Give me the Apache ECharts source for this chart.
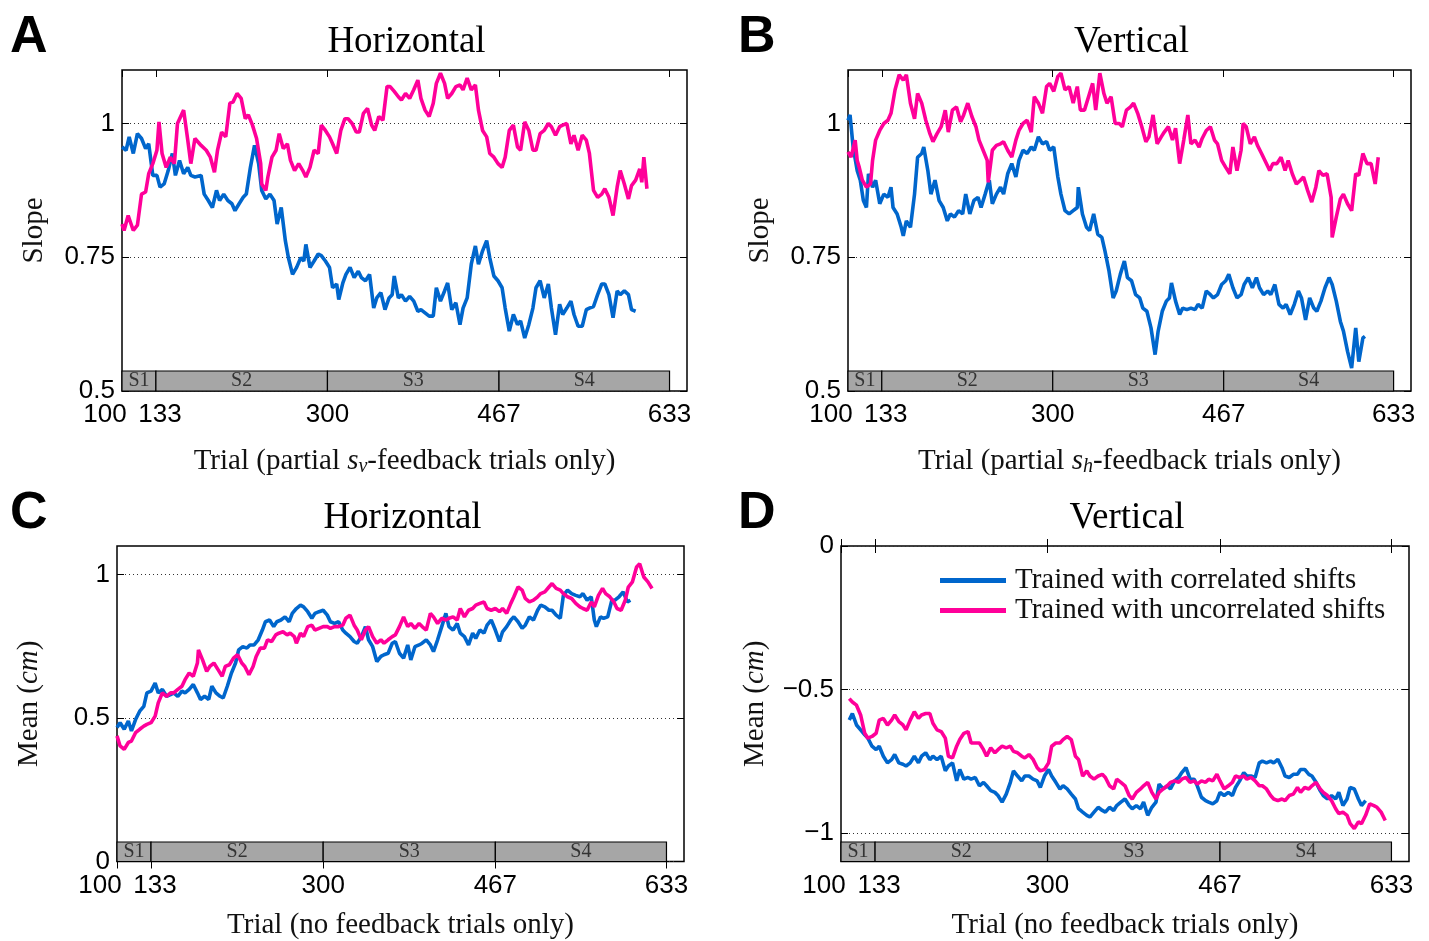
<!DOCTYPE html>
<html>
<head>
<meta charset="utf-8">
<title>Slope and mean over trials</title>
<script src="https://cdn.jsdelivr.net/npm/echarts@6/dist/echarts.min.js"></script>
<style>
  html, body { margin: 0; padding: 0; background: #fff; }
  #chart { width: 1429px; height: 941px; }
</style>
</head>
<body>
<div id="chart"></div>
<script>
// ticks and session bar, shared by all panels
const trialTicks = [100, 133, 300, 467, 633]
const sessionNames = ['S1', 'S2', 'S3', 'S4']
const sessionStart = [100, 133, 300, 467]
const sessionEnd = [133, 300, 467, 633]
const slopeTicks = [0.5, 0.75, 1]
const hMeanTicks = [0, 0.5, 1]
const vMeanTicks = [-1, -0.5, 0]

const corrName = 'Trained with correlated shifts'
const uncorrName = 'Trained with uncorrelated shifts'

// A: slope, horizontal  [trial, slope]
const hSlopeCorr = [[100,0.956],[104,0.95],[107,0.975],[111,0.944],[115,0.981],[119,0.972],[123,0.953],[126,0.962],[130,0.903],[134,0.903],[137,0.881],[141,0.887],[145,0.912],[149,0.944],[152,0.903],[156,0.931],[160,0.906],[164,0.918],[167,0.903],[171,0.9],[177,0.903],[180,0.868],[184,0.856],[188,0.843],[192,0.875],[195,0.856],[199,0.868],[203,0.856],[207,0.85],[210,0.837],[214,0.85],[218,0.862],[221,0.868],[225,0.918],[229,0.959],[233,0.925],[236,0.875],[240,0.859],[244,0.868],[248,0.856],[251,0.812],[255,0.843],[259,0.781],[262,0.749],[266,0.718],[270,0.731],[274,0.749],[277,0.743],[279,0.774],[283,0.731],[287,0.743],[291,0.756],[294,0.753],[298,0.743],[302,0.731],[305,0.693],[309,0.7],[311,0.671],[315,0.702],[318,0.718],[322,0.731],[326,0.712],[330,0.724],[333,0.712],[337,0.706],[341,0.718],[345,0.655],[348,0.674],[352,0.684],[356,0.652],[360,0.674],[363,0.68],[365,0.715],[369,0.674],[372,0.68],[376,0.668],[380,0.677],[384,0.668],[388,0.649],[391,0.652],[395,0.646],[399,0.64],[403,0.64],[406,0.693],[410,0.668],[414,0.687],[417,0.702],[421,0.652],[425,0.665],[429,0.624],[432,0.655],[436,0.674],[440,0.737],[444,0.771],[447,0.737],[451,0.762],[455,0.781],[458,0.749],[462,0.715],[466,0.706],[470,0.693],[473,0.655],[477,0.612],[481,0.643],[485,0.624],[488,0.631],[492,0.599],[496,0.624],[500,0.655],[503,0.693],[507,0.706],[511,0.674],[515,0.7],[518,0.655],[522,0.605],[526,0.662],[529,0.643],[533,0.655],[537,0.668],[540,0.643],[544,0.621],[548,0.621],[552,0.652],[555,0.655],[559,0.658],[563,0.68],[567,0.7],[570,0.7],[574,0.68],[578,0.637],[582,0.687],[585,0.68],[589,0.687],[593,0.68],[596,0.652],[600,0.649]]
const hSlopeUncorr = [[100,0.812],[102,0.8],[106,0.828],[111,0.8],[115,0.81],[119,0.868],[123,0.872],[126,0.906],[130,0.925],[134,0.95],[136,1.003],[139,0.944],[143,0.918],[147,0.937],[151,0.925],[154,1.0],[160,1.025],[164,0.969],[167,0.925],[171,0.972],[177,0.959],[182,0.95],[186,0.937],[190,0.909],[193,0.95],[197,0.984],[201,0.975],[205,1.038],[208,1.04],[212,1.056],[216,1.047],[220,1.009],[223,1.016],[227,0.997],[231,0.972],[235,0.925],[236,0.887],[240,0.875],[242,0.9],[246,0.937],[250,0.95],[253,0.981],[257,0.953],[261,0.962],[264,0.931],[268,0.912],[272,0.925],[276,0.912],[279,0.9],[283,0.918],[287,0.95],[291,0.944],[294,0.997],[298,0.987],[302,0.975],[305,0.962],[309,0.944],[313,0.987],[317,1.009],[320,1.009],[324,1.0],[328,0.984],[331,0.984],[335,1.019],[339,1.028],[343,0.997],[346,0.987],[350,1.013],[354,1.006],[358,1.069],[361,1.069],[365,1.06],[369,1.05],[372,1.044],[376,1.056],[380,1.047],[384,1.063],[388,1.081],[391,1.047],[395,1.025],[399,1.013],[403,1.038],[406,1.075],[410,1.094],[414,1.075],[417,1.047],[421,1.056],[425,1.069],[429,1.072],[432,1.063],[436,1.085],[440,1.063],[444,1.072],[447,1.025],[451,0.987],[455,0.975],[458,0.944],[462,0.937],[466,0.925],[470,0.918],[473,0.937],[477,0.987],[481,0.997],[485,0.956],[488,0.95],[492,1.003],[496,0.987],[500,0.95],[503,0.95],[507,0.981],[511,0.987],[515,1.0],[518,0.994],[522,0.978],[526,0.994],[529,0.997],[533,1.0],[537,0.962],[540,0.978],[544,0.95],[548,0.978],[552,0.969],[555,0.944],[559,0.875],[563,0.862],[567,0.868],[570,0.878],[574,0.862],[578,0.828],[582,0.881],[585,0.912],[589,0.887],[593,0.859],[596,0.884],[600,0.894],[604,0.915],[606,0.89],[608,0.937],[611,0.878]]

// B: slope, vertical
const vSlopeCorr = [[100,1.006],[102,1.016],[105,0.956],[109,0.912],[112,0.894],[115,0.856],[118,0.843],[120,0.906],[124,0.881],[127,0.894],[131,0.85],[135,0.868],[139,0.862],[142,0.881],[144,0.843],[148,0.831],[152,0.806],[154,0.79],[157,0.818],[161,0.806],[165,0.868],[168,0.937],[172,0.944],[174,0.956],[178,0.912],[181,0.868],[185,0.894],[189,0.856],[193,0.843],[197,0.818],[200,0.831],[204,0.825],[208,0.837],[212,0.831],[215,0.868],[219,0.831],[223,0.856],[227,0.862],[230,0.843],[234,0.868],[238,0.894],[241,0.85],[245,0.868],[249,0.881],[252,0.868],[256,0.906],[260,0.925],[264,0.9],[267,0.931],[271,0.95],[275,0.944],[279,0.956],[282,0.95],[286,0.975],[290,0.962],[294,0.966],[297,0.95],[301,0.956],[305,0.9],[308,0.868],[312,0.837],[316,0.831],[320,0.837],[324,0.843],[325,0.881],[329,0.831],[333,0.806],[336,0.8],[340,0.831],[344,0.793],[348,0.787],[351,0.762],[355,0.724],[359,0.674],[362,0.687],[366,0.718],[370,0.743],[373,0.712],[377,0.706],[381,0.68],[385,0.674],[388,0.655],[392,0.649],[396,0.618],[400,0.568],[403,0.612],[407,0.649],[411,0.668],[414,0.674],[416,0.702],[420,0.668],[424,0.643],[427,0.655],[431,0.652],[435,0.655],[439,0.652],[442,0.662],[446,0.655],[450,0.687],[454,0.68],[457,0.674],[461,0.68],[465,0.699],[469,0.706],[472,0.718],[476,0.693],[480,0.674],[484,0.68],[487,0.699],[491,0.712],[495,0.693],[499,0.712],[502,0.693],[506,0.68],[510,0.687],[513,0.68],[517,0.699],[521,0.662],[525,0.655],[528,0.662],[532,0.643],[536,0.662],[540,0.687],[543,0.674],[547,0.633],[551,0.674],[555,0.655],[558,0.649],[562,0.668],[566,0.693],[570,0.712],[573,0.699],[577,0.668],[581,0.63],[584,0.612],[588,0.574],[592,0.543],[596,0.618],[599,0.555],[603,0.599],[605,0.602]]
const vSlopeUncorr = [[100,0.947],[103,0.937],[107,0.969],[109,0.931],[111,0.918],[114,0.894],[118,0.881],[122,0.887],[124,0.931],[127,0.969],[131,0.987],[135,1.0],[139,1.006],[142,1.019],[146,1.063],[150,1.091],[154,1.081],[157,1.091],[161,1.038],[165,1.009],[168,1.056],[172,1.038],[176,1.006],[180,0.981],[183,0.966],[187,0.981],[191,0.994],[195,1.025],[198,0.984],[202,1.025],[206,1.031],[210,1.003],[213,1.016],[217,1.038],[221,1.013],[225,0.994],[228,0.969],[232,0.95],[236,0.931],[237,0.89],[241,0.95],[245,0.959],[249,0.962],[252,0.966],[256,0.95],[260,0.937],[264,0.969],[267,0.987],[271,1.0],[275,1.006],[279,0.984],[282,1.05],[286,1.038],[290,1.019],[294,1.069],[297,1.075],[301,1.06],[305,1.088],[308,1.094],[312,1.063],[316,1.069],[320,1.038],[324,1.069],[327,1.025],[331,1.025],[335,1.05],[339,1.075],[342,1.025],[346,1.094],[350,1.056],[353,1.038],[357,1.05],[361,1.0],[365,1.0],[368,0.994],[372,1.025],[376,1.031],[379,1.038],[383,1.019],[387,0.994],[391,0.966],[394,0.975],[398,1.016],[402,0.962],[406,0.975],[409,0.984],[413,0.994],[417,0.969],[420,0.991],[424,0.925],[428,0.969],[432,1.016],[435,0.962],[439,0.969],[443,0.956],[446,0.972],[450,0.987],[454,0.994],[458,0.969],[461,0.962],[465,0.931],[469,0.918],[473,0.906],[476,0.956],[480,0.912],[484,0.95],[486,1.0],[489,0.994],[493,0.962],[497,0.975],[500,0.959],[504,0.944],[508,0.928],[512,0.912],[515,0.925],[519,0.925],[523,0.937],[527,0.912],[530,0.931],[534,0.906],[538,0.887],[542,0.894],[545,0.9],[549,0.875],[553,0.853],[557,0.881],[560,0.912],[564,0.903],[568,0.906],[572,0.862],[573,0.787],[577,0.825],[581,0.859],[584,0.868],[588,0.85],[592,0.837],[596,0.906],[599,0.903],[603,0.944],[607,0.925],[611,0.925],[615,0.887],[618,0.937]]

// C: mean, horizontal  [trial, cm]
const hMeanCorr = [[100,0.467],[103,0.484],[107,0.461],[111,0.49],[114,0.455],[118,0.495],[122,0.524],[126,0.541],[129,0.588],[133,0.594],[137,0.622],[140,0.588],[144,0.6],[148,0.576],[152,0.582],[155,0.588],[159,0.576],[163,0.594],[166,0.588],[170,0.6],[174,0.617],[178,0.588],[181,0.565],[185,0.576],[189,0.565],[192,0.611],[196,0.588],[200,0.576],[203,0.57],[207,0.611],[211,0.657],[215,0.692],[218,0.738],[222,0.749],[226,0.744],[229,0.755],[233,0.755],[237,0.773],[241,0.807],[244,0.836],[248,0.842],[252,0.819],[255,0.836],[259,0.842],[263,0.853],[267,0.836],[270,0.865],[274,0.882],[278,0.894],[281,0.888],[285,0.871],[289,0.848],[292,0.865],[296,0.871],[300,0.876],[304,0.859],[307,0.836],[311,0.83],[315,0.836],[319,0.807],[322,0.796],[326,0.784],[330,0.767],[333,0.761],[337,0.784],[341,0.819],[344,0.773],[348,0.749],[352,0.697],[356,0.715],[359,0.721],[363,0.726],[367,0.761],[370,0.767],[374,0.726],[378,0.709],[382,0.755],[385,0.703],[389,0.749],[393,0.755],[396,0.761],[400,0.773],[404,0.755],[407,0.732],[411,0.773],[415,0.819],[419,0.865],[422,0.819],[426,0.807],[430,0.83],[433,0.796],[437,0.784],[441,0.755],[445,0.796],[448,0.778],[452,0.807],[456,0.796],[459,0.824],[463,0.842],[467,0.807],[471,0.767],[474,0.801],[478,0.819],[482,0.842],[485,0.853],[489,0.836],[493,0.813],[496,0.824],[500,0.853],[504,0.842],[508,0.876],[511,0.894],[515,0.888],[519,0.876],[522,0.876],[526,0.859],[530,0.848],[533,0.928],[537,0.946],[541,0.934],[545,0.928],[549,0.923],[552,0.934],[556,0.911],[560,0.923],[563,0.842],[565,0.819],[569,0.853],[572,0.848],[576,0.853],[580,0.911],[583,0.911],[587,0.923],[591,0.94],[595,0.905],[598,0.911]]
const hMeanUncorr = [[100,0.438],[103,0.403],[107,0.391],[111,0.415],[114,0.42],[118,0.449],[122,0.461],[126,0.472],[129,0.478],[133,0.484],[137,0.507],[140,0.553],[144,0.588],[148,0.576],[152,0.588],[155,0.588],[159,0.6],[163,0.611],[166,0.634],[170,0.657],[174,0.646],[178,0.692],[179,0.738],[183,0.703],[187,0.663],[190,0.68],[194,0.692],[198,0.669],[202,0.646],[205,0.68],[209,0.686],[213,0.709],[217,0.721],[221,0.692],[224,0.68],[228,0.651],[232,0.68],[235,0.715],[239,0.744],[243,0.744],[246,0.773],[250,0.767],[254,0.79],[257,0.796],[261,0.801],[265,0.79],[268,0.796],[272,0.784],[274,0.761],[278,0.796],[281,0.784],[285,0.819],[289,0.824],[292,0.807],[296,0.813],[300,0.819],[304,0.819],[307,0.813],[311,0.819],[315,0.819],[319,0.824],[322,0.848],[326,0.859],[330,0.824],[333,0.807],[337,0.773],[341,0.807],[344,0.819],[348,0.784],[352,0.761],[356,0.773],[359,0.761],[363,0.773],[367,0.784],[370,0.79],[374,0.819],[378,0.853],[382,0.819],[385,0.83],[389,0.813],[393,0.83],[396,0.819],[400,0.807],[404,0.865],[407,0.853],[411,0.83],[415,0.848],[419,0.842],[422,0.848],[426,0.853],[430,0.842],[433,0.882],[437,0.853],[441,0.876],[445,0.882],[448,0.894],[452,0.9],[456,0.905],[459,0.882],[463,0.876],[467,0.882],[471,0.871],[474,0.882],[478,0.865],[482,0.9],[485,0.923],[489,0.957],[493,0.946],[496,0.917],[500,0.905],[504,0.911],[508,0.923],[511,0.934],[515,0.94],[519,0.957],[522,0.969],[526,0.952],[530,0.946],[533,0.934],[537,0.923],[541,0.917],[545,0.9],[549,0.888],[552,0.882],[556,0.876],[560,0.905],[563,0.888],[567,0.928],[571,0.952],[574,0.934],[578,0.923],[582,0.905],[585,0.882],[589,0.876],[593,0.911],[596,0.957],[600,0.975],[604,1.027],[607,1.038],[611,0.992],[615,0.975],[619,0.952]]

// D: mean, vertical
const vMeanCorr = [[108,-0.607],[111,-0.584],[115,-0.624],[119,-0.641],[123,-0.658],[126,-0.67],[130,-0.698],[134,-0.71],[137,-0.698],[141,-0.733],[145,-0.756],[149,-0.745],[152,-0.727],[156,-0.756],[160,-0.761],[163,-0.767],[167,-0.756],[171,-0.733],[175,-0.756],[178,-0.733],[182,-0.721],[186,-0.745],[189,-0.733],[193,-0.745],[197,-0.733],[201,-0.784],[204,-0.767],[208,-0.756],[212,-0.819],[215,-0.779],[219,-0.813],[223,-0.807],[226,-0.813],[230,-0.807],[234,-0.836],[238,-0.824],[241,-0.836],[245,-0.853],[249,-0.859],[252,-0.87],[256,-0.893],[260,-0.865],[264,-0.824],[267,-0.784],[271,-0.802],[275,-0.819],[278,-0.802],[282,-0.802],[286,-0.813],[290,-0.819],[293,-0.842],[297,-0.802],[301,-0.779],[304,-0.802],[308,-0.824],[312,-0.847],[315,-0.836],[319,-0.847],[323,-0.865],[327,-0.882],[330,-0.916],[334,-0.928],[338,-0.939],[341,-0.945],[345,-0.928],[349,-0.911],[353,-0.922],[356,-0.928],[360,-0.911],[364,-0.922],[367,-0.905],[371,-0.893],[375,-0.882],[379,-0.905],[382,-0.916],[386,-0.905],[390,-0.916],[393,-0.893],[397,-0.939],[401,-0.911],[405,-0.893],[408,-0.83],[412,-0.847],[416,-0.836],[419,-0.847],[423,-0.819],[427,-0.807],[430,-0.79],[434,-0.773],[438,-0.813],[442,-0.813],[445,-0.836],[449,-0.876],[453,-0.888],[456,-0.893],[460,-0.899],[464,-0.888],[467,-0.859],[471,-0.87],[475,-0.859],[479,-0.87],[482,-0.842],[486,-0.819],[490,-0.79],[493,-0.802],[497,-0.802],[501,-0.807],[505,-0.756],[508,-0.75],[512,-0.756],[516,-0.75],[519,-0.756],[523,-0.744],[527,-0.773],[530,-0.802],[534,-0.807],[538,-0.796],[542,-0.796],[545,-0.779],[549,-0.779],[553,-0.796],[556,-0.802],[560,-0.824],[564,-0.853],[567,-0.87],[571,-0.882],[575,-0.87],[579,-0.882],[582,-0.859],[586,-0.905],[590,-0.882],[593,-0.842],[597,-0.847],[601,-0.882],[604,-0.905],[608,-0.888]]
const vMeanUncorr = [[108,-0.532],[111,-0.544],[115,-0.555],[119,-0.589],[123,-0.653],[126,-0.67],[130,-0.664],[134,-0.653],[137,-0.607],[141,-0.601],[145,-0.624],[149,-0.607],[152,-0.589],[156,-0.612],[160,-0.624],[163,-0.641],[167,-0.607],[171,-0.578],[175,-0.601],[178,-0.589],[182,-0.584],[186,-0.584],[189,-0.618],[193,-0.641],[197,-0.647],[201,-0.67],[204,-0.733],[208,-0.739],[212,-0.698],[215,-0.675],[219,-0.653],[223,-0.647],[226,-0.687],[230,-0.687],[234,-0.687],[238,-0.71],[241,-0.733],[245,-0.704],[249,-0.721],[252,-0.71],[256,-0.698],[260,-0.704],[264,-0.698],[267,-0.716],[271,-0.721],[275,-0.733],[278,-0.739],[282,-0.727],[286,-0.744],[290,-0.773],[293,-0.784],[297,-0.779],[301,-0.756],[304,-0.698],[308,-0.687],[312,-0.687],[315,-0.675],[319,-0.664],[323,-0.675],[327,-0.733],[330,-0.744],[334,-0.802],[338,-0.784],[341,-0.802],[345,-0.813],[349,-0.802],[353,-0.796],[356,-0.807],[360,-0.836],[364,-0.847],[367,-0.813],[371,-0.824],[375,-0.836],[379,-0.87],[382,-0.882],[386,-0.859],[390,-0.847],[393,-0.836],[397,-0.824],[401,-0.859],[405,-0.882],[408,-0.859],[412,-0.847],[416,-0.836],[419,-0.824],[423,-0.819],[427,-0.824],[430,-0.813],[434,-0.807],[438,-0.824],[442,-0.819],[445,-0.83],[449,-0.819],[453,-0.824],[456,-0.813],[460,-0.819],[464,-0.796],[467,-0.819],[471,-0.847],[475,-0.836],[479,-0.824],[482,-0.802],[486,-0.807],[490,-0.802],[493,-0.813],[497,-0.807],[501,-0.819],[505,-0.836],[508,-0.836],[512,-0.847],[516,-0.87],[519,-0.882],[523,-0.888],[527,-0.882],[530,-0.888],[534,-0.87],[538,-0.865],[542,-0.842],[545,-0.859],[549,-0.842],[553,-0.847],[556,-0.836],[560,-0.824],[564,-0.847],[567,-0.859],[571,-0.87],[575,-0.888],[579,-0.916],[582,-0.933],[586,-0.928],[590,-0.939],[593,-0.968],[597,-0.985],[601,-0.962],[604,-0.968],[608,-0.939],[612,-0.899],[616,-0.905],[619,-0.911],[623,-0.928],[627,-0.957]]

const blue = '#0066CC'
const pink = '#FF0099'
const serif = '"Liberation Serif", "DejaVu Serif", serif'
const sans = '"Liberation Sans Narrow", "Liberation Sans", Arial, sans-serif'

const panels = [
  { letter: 'A', title: 'Horizontal', grid: { left: 122, top: 70, width: 565, height: 321 },
    yMin: 0.5, yMax: 1.1, yTicks: slopeTicks, barTop: 0.5374,
    yName: '{t|Slope}', xName: '{t|Trial (partial }{it|s}{sub|v}{t|-feedback trials only)}',
    xNameGap: 54, yNameGap: 72, corr: hSlopeCorr, uncorr: hSlopeUncorr },
  { letter: 'B', title: 'Vertical', grid: { left: 848, top: 70, width: 563, height: 321 },
    yMin: 0.5, yMax: 1.1, yTicks: slopeTicks, barTop: 0.5374,
    yName: '{t|Slope}', xName: '{t|Trial (partial }{it|s}{sub|h}{t|-feedback trials only)}',
    xNameGap: 54, yNameGap: 72, corr: vSlopeCorr, uncorr: vSlopeUncorr },
  { letter: 'C', title: 'Horizontal', grid: { left: 117, top: 546, width: 567, height: 318 },
    yMin: 0, yMax: 1.1, yTicks: hMeanTicks, barTop: 0.068,
    yName: '{t|Mean (}{it|cm}{t|)}', xName: '{t|Trial (no feedback trials only)}',
    xNameGap: 48, yNameGap: 72, corr: hMeanCorr, uncorr: hMeanUncorr },
  { letter: 'D', title: 'Vertical', grid: { left: 841, top: 546, width: 568, height: 318 },
    yMin: -1.1, yMax: 0, yTicks: vMeanTicks, barTop: -1.032,
    yName: '{t|Mean (}{it|cm}{t|)}', xName: '{t|Trial (no feedback trials only)}',
    xNameGap: 48, yNameGap: 70, corr: vMeanCorr, uncorr: vMeanUncorr }
]

const nameRich = {
  t: { fontFamily: serif, fontSize: 29, color: '#111', lineHeight: 32 },
  it: { fontFamily: serif, fontSize: 29, fontStyle: 'italic', color: '#111', lineHeight: 32 },
  sub: { fontFamily: serif, fontSize: 20, fontStyle: 'italic', color: '#111', lineHeight: 15, verticalAlign: 'bottom' }
}

const tickStyle = { inside: true, length: 7, lineStyle: { color: '#000', width: 1 } }

const xLabel = {
  fontFamily: sans, fontSize: 26, color: '#000', margin: 11,
  customValues: trialTicks,
  formatter: (v) => v === 100 ? '{l|100}' : v === 133 ? '{r|133}' : String(v),
  rich: {
    l: { fontFamily: sans, fontSize: 26, color: '#000', padding: [0, 34, 0, 0] },
    r: { fontFamily: sans, fontSize: 26, color: '#000', padding: [0, 0, 0, 8] }
  }
}

const grids = [], xAxes = [], yAxes = [], series = [], titles = []
panels.forEach((p, i) => {
  grids.push(Object.assign({ show: true, borderColor: '#000', borderWidth: 1.5, containLabel: false }, p.grid))
  const cx = p.grid.left + p.grid.width / 2
  titles.push({ text: p.title, left: cx - 3, top: p.grid.top - 51, textAlign: 'center',
    textStyle: { fontFamily: serif, fontSize: 37, fontWeight: 'normal', color: '#000' } })
  titles.push({ text: p.letter, left: i % 2 ? 733 : 5, top: p.grid.top - 63,
    textStyle: { fontFamily: 'Liberation Sans, Arial, sans-serif', fontSize: 52, fontWeight: 'bold', color: '#000' } })

  xAxes.push({
    gridIndex: i, type: 'value', min: 100, max: 650, position: 'bottom',
    axisLine: { show: false }, splitLine: { show: false },
    axisTick: Object.assign({ customValues: trialTicks }, tickStyle),
    axisLabel: xLabel,
    name: p.xName, nameLocation: 'middle', nameGap: p.xNameGap,
    nameTextStyle: { rich: nameRich }
  })
  xAxes.push({
    gridIndex: i, type: 'value', min: 100, max: 650, position: 'top',
    axisLine: { show: false }, splitLine: { show: false }, axisLabel: { show: false },
    axisTick: Object.assign({ customValues: trialTicks }, tickStyle)
  })
  yAxes.push({
    gridIndex: i, type: 'value', min: p.yMin, max: p.yMax, position: 'left',
    axisLine: { show: false },
    axisTick: Object.assign({ customValues: p.yTicks }, tickStyle),
    axisLabel: { customValues: p.yTicks, fontFamily: sans, fontSize: 26, color: '#000', margin: 7,
      formatter: (v) => String(v).replace('-', '\u2212') },
    splitLine: { show: true, lineStyle: { type: [1, 3], color: '#333', width: 1 } },
    name: p.yName, nameLocation: 'middle', nameGap: p.yNameGap, nameRotate: 90,
    nameTextStyle: { rich: nameRich }
  })
  yAxes.push({
    gridIndex: i, type: 'value', min: p.yMin, max: p.yMax, position: 'right',
    axisLine: { show: false }, splitLine: { show: false }, axisLabel: { show: false },
    axisTick: Object.assign({ customValues: p.yTicks }, tickStyle)
  })

  series.push({
    name: corrName, type: 'line', xAxisIndex: 2 * i, yAxisIndex: 2 * i,
    data: p.corr, symbol: 'none', color: blue,
    lineStyle: { color: blue, width: 3.6 }, z: 3,
    markArea: {
      silent: true,
      itemStyle: { color: '#A6A6A6', opacity: 1, borderColor: '#000', borderWidth: 1.2 },
      label: { show: true, position: 'inside', fontFamily: serif, fontSize: 20, color: '#333' },
      data: sessionNames.map((n, k) => [
        { name: n, xAxis: sessionStart[k], yAxis: p.yMin },
        { xAxis: sessionEnd[k], yAxis: p.barTop }
      ])
    }
  })
  series.push({
    name: uncorrName, type: 'line', xAxisIndex: 2 * i, yAxisIndex: 2 * i,
    data: p.uncorr, symbol: 'none', color: pink,
    lineStyle: { color: pink, width: 3.6 }, z: 4
  })
})

const myChart = echarts.init(document.getElementById('chart'), null, { renderer: 'canvas' })
myChart.setOption({
  animation: false,
  backgroundColor: '#fff',
  title: titles,
  legend: {
    data: [corrName, uncorrName],
    orient: 'vertical', left: 935, top: 561,
    icon: 'rect', itemWidth: 66, itemHeight: 5, itemGap: 1,
    textStyle: { fontFamily: serif, fontSize: 29, color: '#111', padding: [0, 0, 0, 4], lineHeight: 28 },
    selectedMode: false
  },
  grid: grids,
  xAxis: xAxes,
  yAxis: yAxes,
  series: series
})
window.addEventListener('resize', () => {
  myChart.resize()
})
</script>
</body>
</html>
